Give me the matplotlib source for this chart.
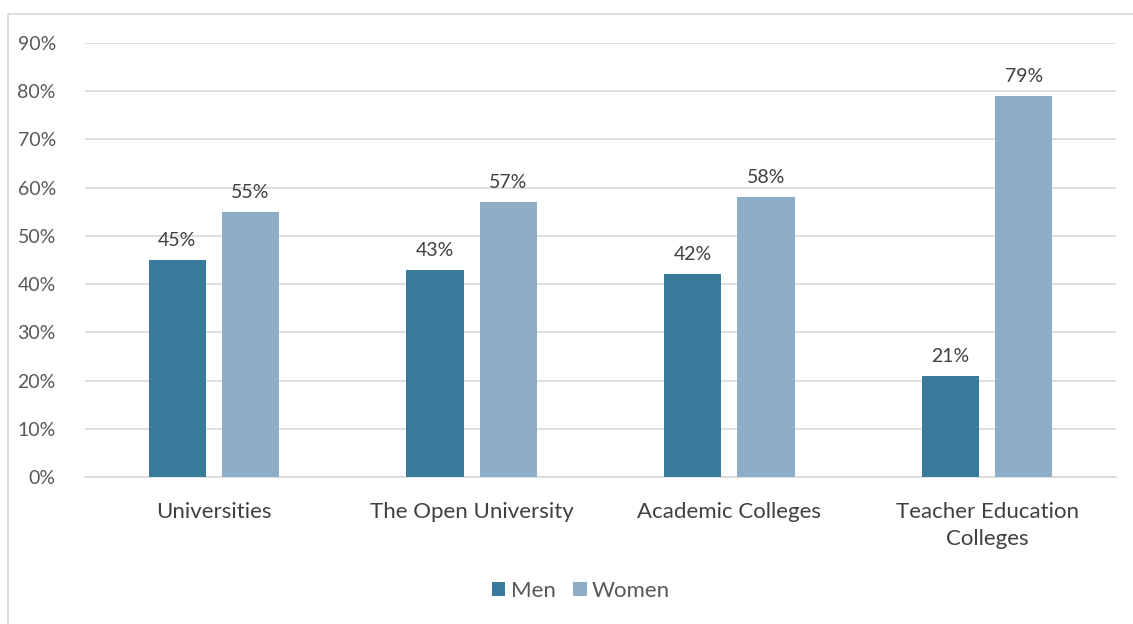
import matplotlib
matplotlib.use("Agg")
import matplotlib.pyplot as plt
import numpy as np
from matplotlib.patches import Rectangle

categories = ["Universities", "The Open University", "Academic Colleges", "Teacher Education\nColleges"]
men = [45, 43, 42, 21]
women = [55, 57, 58, 79]
yticks = [0, 10, 20, 30, 40, 50, 60, 70, 80, 90]

plt.rcParams['font.family'] = ['Lato', 'DejaVu Sans']

W, H = 1133, 624
fig = plt.figure(figsize=(W/100, H/100), dpi=100)
fig.patches.append(Rectangle((8/W, -0.1), 1.2, 1 - 14/H + 0.1, transform=fig.transFigure,
                             fill=False, edgecolor='#D9D9D9', linewidth=1.3))
ax = fig.add_axes([85/W, 1 - 477/H, (1116-85)/W, (477-43)/H])

x = np.arange(len(categories))
bw = 0.222
off = 0.142
c_men = '#387A9C'
c_women = '#8EADC7'
b1 = ax.bar(x - off, men, bw, color=c_men, label='Men', zorder=3)
b2 = ax.bar(x + off, women, bw, color=c_women, label='Women', zorder=3)

for bars, vals in ((b1, men), (b2, women)):
    for b, v in zip(bars, vals):
        ax.text(b.get_x() + b.get_width()/2, v + 2.3, f"{v}%", ha='center', va='bottom',
                fontsize=14, color='#404040')

ax.set_xlim(-0.5, len(categories) - 0.5)
ax.set_ylim(0, 90)
ax.set_yticks(yticks)
ax.set_yticklabels([f"{t}%" for t in yticks], fontsize=14, color='#595959')
ax.set_xticks(x)
ax.set_xticklabels(categories, fontsize=16, color='#404040', linespacing=1.45)
ax.tick_params(axis='both', length=0)
ax.tick_params(axis='y', pad=21)
ax.tick_params(axis='x', pad=18)
ax.grid(axis='y', color='#D9D9D9', linewidth=1.2, zorder=0)
for s in ['top', 'right', 'left']:
    ax.spines[s].set_visible(False)
ax.spines['bottom'].set_color('#D9D9D9')
ax.spines['bottom'].set_linewidth(1.2)

leg = fig.legend(handles=[b1, b2], loc='center', bbox_to_anchor=(581/W, 1 - 591/H), ncol=2,
                 frameon=False, fontsize=16, handlelength=0.6, handleheight=0.6,
                 handletextpad=0.25, columnspacing=0.8)
for t in leg.get_texts():
    t.set_color('#595959')

fig.savefig("out.png", dpi=100)
